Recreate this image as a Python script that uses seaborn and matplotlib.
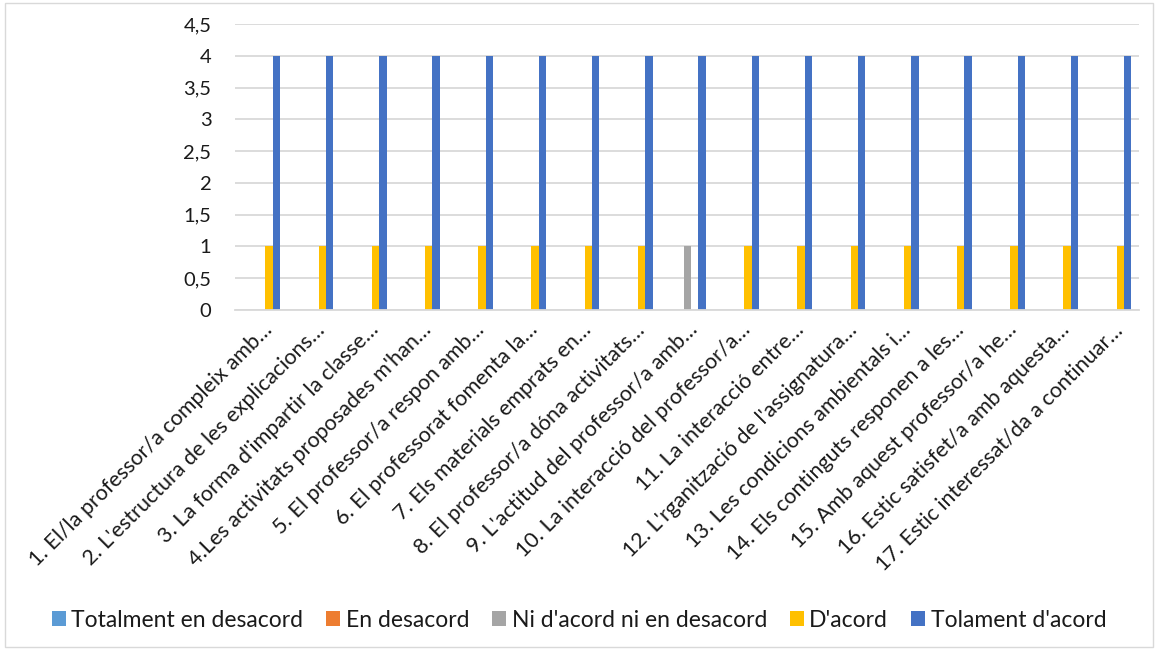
import matplotlib
matplotlib.use("Agg")
import matplotlib.pyplot as plt
import seaborn as sns
import pandas as pd
from matplotlib.patches import Rectangle, Patch
from matplotlib.ticker import FuncFormatter

categories = [
    "1. El/la professor/a compleix amb…",
    "2. L'estructura de les explicacions…",
    "3. La forma d'impartir la classe…",
    "4.Les activitats proposades m'han…",
    "5. El professor/a respon amb…",
    "6. El professorat fomenta la…",
    "7. Els materials emprats en…",
    "8. El professor/a dóna activitats…",
    "9. L'actitud del professor/a amb…",
    "10. La interacció del professor/a…",
    "11. La interacció entre…",
    "12. L'rganització de l'assignatura…",
    "13. Les condicions ambientals i…",
    "14. Els continguts responen a les…",
    "15. Amb aquest professor/a he…",
    "16. Estic satisfet/a amb aquesta…",
    "17. Estic interessat/da a continuar…",
]
series_names = ["Totalment en desacord", "En desacord", "Ni d'acord ni en desacord",
                "D'acord", "Tolament d'acord"]
totalment_desacord = [0] * 17
en_desacord = [0] * 17
ni_acord = [0, 0, 0, 0, 0, 0, 0, 0, 1, 0, 0, 0, 0, 0, 0, 0, 0]
d_acord = [1, 1, 1, 1, 1, 1, 1, 1, 0, 1, 1, 1, 1, 1, 1, 1, 1]
tolament_acord = [4] * 17
y_ticks = [0, 0.5, 1, 1.5, 2, 2.5, 3, 3.5, 4, 4.5]

colors = ["#5B9BD5", "#ED7D31", "#A5A5A5", "#FFC000", "#4472C4"]

rows = []
for name, vals in zip(series_names, [totalment_desacord, en_desacord, ni_acord, d_acord, tolament_acord]):
    for c, v in zip(categories, vals):
        rows.append({"cat": c, "serie": name, "val": v})
df = pd.DataFrame(rows)

sns.set_theme(style="white")
plt.rcParams['font.family'] = ['Lato', 'DejaVu Sans']

fig = plt.figure(figsize=(11.58, 6.5), dpi=100)
ax = fig.add_axes([0.203, 0.523, 0.781, 0.44])

sns.barplot(data=df, x="cat", y="val", hue="serie", order=categories,
            hue_order=series_names, palette=colors, width=0.7, ax=ax,
            legend=False, saturation=1, linewidth=0)

ax.set_ylim(0, 4.5)
ax.set_xlim(-0.5, 16.5)
ax.set_yticks(y_ticks)
ax.yaxis.set_major_formatter(FuncFormatter(lambda v, p: (f"{v:g}").replace(".", ",")))
ax.grid(axis="y", color="#d9d9d9", linewidth=1.3)
ax.set_axisbelow(True)
for s in ["top", "right", "left"]:
    ax.spines[s].set_visible(False)
ax.spines["bottom"].set_color("#d9d9d9")
ax.spines["bottom"].set_linewidth(1.3)
ax.set_xlabel("")
ax.set_ylabel("")
ax.tick_params(axis="y", length=0, labelsize=14.5, colors="#1a1a1a", pad=17)
ax.tick_params(axis="x", length=0, labelsize=15.5, colors="#1a1a1a", pad=7)
ax.set_xticks(range(len(categories)))
ax.set_xticklabels(categories, rotation=45, ha="right", rotation_mode="anchor", va="top")

handles = [Patch(facecolor=c, edgecolor="none") for c in colors]
fig.legend(handles, series_names, loc="center", bbox_to_anchor=(0.5, 0.046), ncol=5,
           frameon=False, fontsize=16.5, handlelength=0.6, handleheight=0.6,
           handletextpad=0.25, columnspacing=1.0, labelcolor="#1a1a1a")

fig.patches.append(Rectangle((0.004, 0.004), 0.992, 0.992, transform=fig.transFigure,
                             fill=False, edgecolor="#d9d9d9", linewidth=1))

fig.savefig("out.png", dpi=100)
